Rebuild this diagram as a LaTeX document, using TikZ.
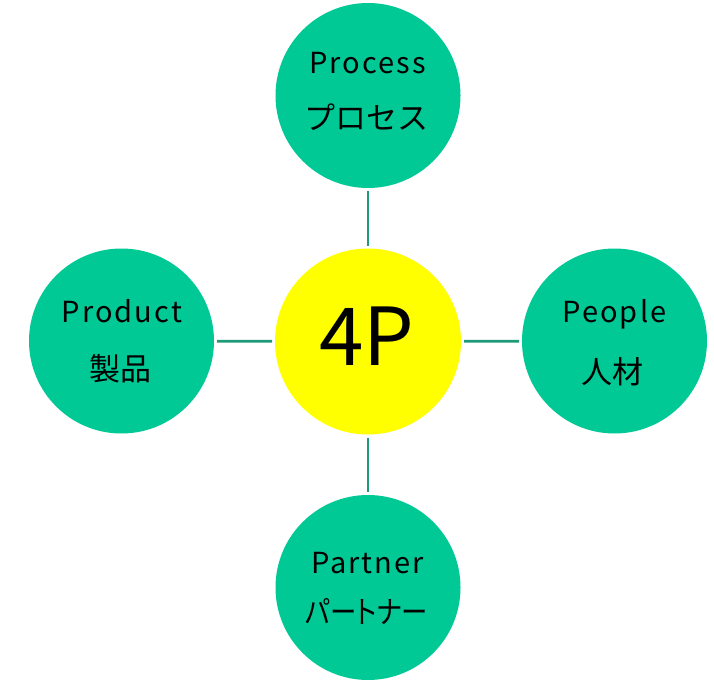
\documentclass[tikz,border=0pt]{standalone}
\usepackage{fontspec}
\setmainfont{Noto Sans CJK JP}
\newfontfamily\spacedfont[LetterSpace=7]{Noto Sans CJK JP}
\newfontfamily\paltfont[RawFeature=+palt]{Noto Sans CJK JP}
\definecolor{leaf}{HTML}{00C996}
\definecolor{stem}{HTML}{1F9A78}
\definecolor{sun}{HTML}{FFFF00}
\tikzset{
  petal/.style={circle, fill=leaf, draw=none, minimum size=185pt, inner sep=0pt, outer sep=0pt},
  core/.style={circle, fill=sun, draw=none, minimum size=186pt, inner sep=0pt, outer sep=0pt},
  link/.style={draw=stem, line width=2.8pt, shorten <=3pt, shorten >=3pt},
  entxt/.style={anchor=base, inner sep=0pt, font=\spacedfont\fontsize{29}{29}\selectfont},
  jptxt/.style={anchor=base, inner sep=0pt, font=\fontsize{31}{31}\selectfont}
}
\begin{document}
\begin{tikzpicture}[x=1pt,y=-1pt]
\useasboundingbox (0,0) rectangle (714,687);
\fill[white] (0,0) rectangle (714,687);
\node[core] (c) at (368,341.5) {};
\node[petal] (t) at (368,95.5) {};
\node[petal] (b) at (368,587.5) {};
\node[petal] (l) at (121.5,341) {};
\node[petal] (r) at (614.5,341) {};
\draw[link] (t) -- (c);
\draw[link] (c) -- (b);
\draw[link] (l) -- (c);
\draw[link] (c) -- (r);
\node[anchor=base, inner sep=0pt, font=\fontsize{80}{80}\selectfont] (ct) at (367,365) {4P};
\node[entxt] (te) at (367.5,74) {Process};
\node[jptxt] (tj) at (366.7,130) {プロセス};
\node[entxt] (le) at (122,322) {Product};
\node[jptxt] (lj) at (120.5,380) {製品};
\node[entxt] (re) at (614.5,322) {People};
\node[jptxt] (rj) at (612.5,383) {人材};
\node[entxt] (be) at (367.5,573) {Partner};
\node[jptxt, font=\paltfont\fontsize{31}{31}\selectfont] (bj) at (366.7,623) {\scalebox{0.85}[1]{パートナー}};
\end{tikzpicture}
\end{document}
